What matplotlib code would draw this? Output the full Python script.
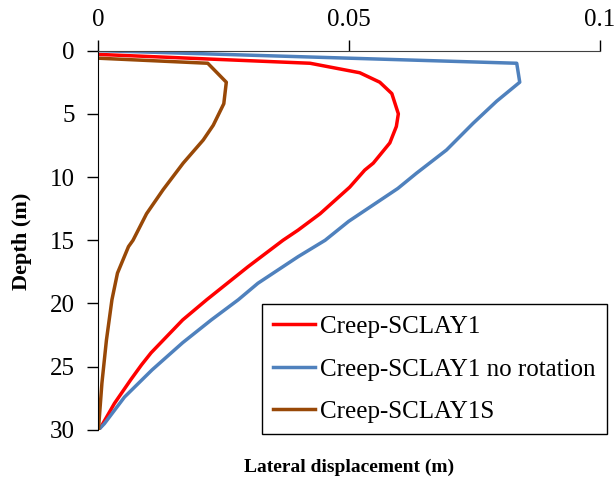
import matplotlib
matplotlib.use("Agg")
import matplotlib.pyplot as plt

# Lateral displacement profiles
depth_sclay1 = [0.3, 1.0, 1.75, 2.5, 3.4, 5.0, 6.0, 7.3, 8.9, 9.45, 10.8,
                12.9, 14.2, 15.0, 17.1, 19.7, 21.3, 23.9, 24.85, 26.0, 27.9,
                29.7, 30.0]
disp_sclay1 = [0.0, 0.0422, 0.0521, 0.0561, 0.0585, 0.0598, 0.0594, 0.0581,
               0.0548, 0.0531, 0.0501, 0.0442, 0.0398, 0.0368, 0.0298,
               0.0216, 0.0168, 0.0105, 0.0086, 0.0065, 0.0032, 0.0006, 0.0]

depth_norot = [0.0, 1.0, 2.5, 4.0, 5.75, 7.86, 9.7, 10.9, 13.5, 15.0, 16.3,
               18.4, 19.7, 21.3, 23.1, 25.25, 27.4, 29.5, 30.0]
disp_norot = [0.0, 0.0834, 0.0840, 0.0794, 0.0747, 0.0694, 0.0634, 0.0597,
              0.0499, 0.0452, 0.0398, 0.0318, 0.0279, 0.0225, 0.0168,
              0.0107, 0.0052, 0.0012, 0.0]

depth_sclay1s = [0.6, 1.0, 2.5, 4.2, 5.9, 7.07, 8.9, 11.0, 12.9, 15.0, 15.5,
                 17.6, 19.7, 22.9, 26.3, 30.0]
disp_sclay1s = [0.0, 0.0218, 0.0255, 0.0250, 0.0229, 0.0209, 0.0169, 0.0129,
                0.0096, 0.0069, 0.0060, 0.0038, 0.0027, 0.0016, 0.0007, 0.0]

labels = ["Creep-SCLAY1", "Creep-SCLAY1 no rotation", "Creep-SCLAY1S"]
colors = ["#FF0000", "#4F81BD", "#984807"]

x_ticks = [0, 0.05, 0.1]
x_tick_labels = ["0", "0.05", "0.1"]
y_ticks = [0, 5, 10, 15, 20, 25, 30]

FONT = "Liberation Serif"
FS = 18

plt.rcParams["font.family"] = [FONT, "DejaVu Serif"]

fig = plt.figure(figsize=(6.15, 4.82), dpi=100)
ax = fig.add_axes([0.160, 0.108, 0.8156, 0.787])

ax.plot(disp_sclay1, depth_sclay1, color=colors[0], lw=2.5, label=labels[0])
ax.plot(disp_norot, depth_norot, color=colors[1], lw=2.5, label=labels[1])
ax.plot(disp_sclay1s, depth_sclay1s, color=colors[2], lw=2.5, label=labels[2])

ax.set_xlim(0, 0.1)
ax.set_ylim(30, 0)
ax.set_xticks(x_ticks)
ax.set_xticklabels(x_tick_labels)
ax.set_yticks(y_ticks)

ax.xaxis.tick_top()
ax.spines["bottom"].set_visible(False)
ax.spines["right"].set_visible(False)
ax.spines["top"].set_color("#404040")
ax.spines["left"].set_color("black")
ax.tick_params(axis="x", direction="out", length=8, width=1, pad=6,
               labelsize=FS, colors="black")
ax.tick_params(axis="y", direction="out", length=8, width=1, pad=9,
               labelsize=FS, colors="black")

fig.text(0.568, 0.031, "Lateral displacement (m)", ha="center", va="center",
         fontsize=14, fontweight="bold")
fig.text(0.035, 0.5, "Depth (m)", ha="center", va="center", rotation=90,
         fontsize=16, fontweight="bold")

leg = ax.legend(loc="upper left", bbox_to_anchor=(0.4255, 0.3687),
                bbox_transform=fig.transFigure, fontsize=FS, frameon=True,
                fancybox=False, edgecolor="black", framealpha=1,
                handlelength=1.68, handletextpad=0.2, labelspacing=0.8,
                borderpad=0.45, borderaxespad=0)
leg.get_frame().set_linewidth(1)

fig.savefig("out.png", dpi=100)
